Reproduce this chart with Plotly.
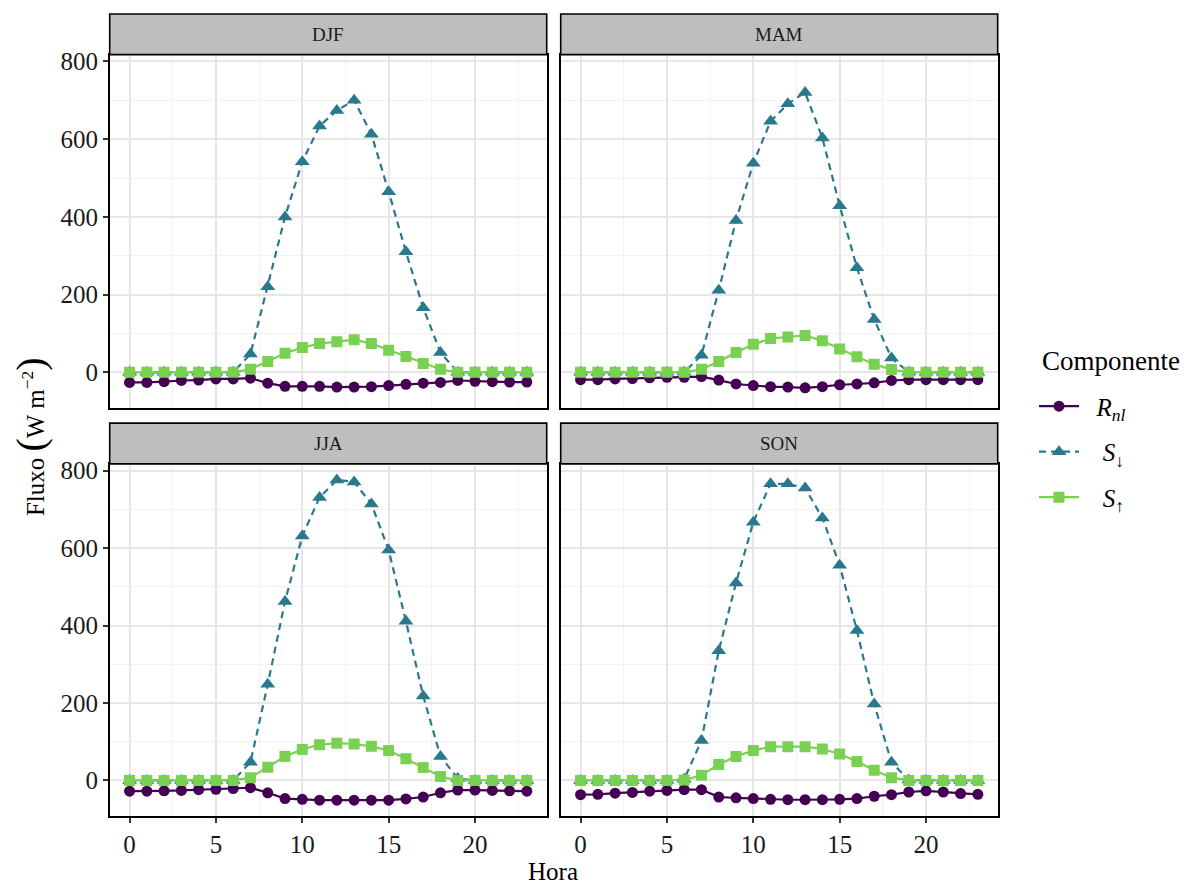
import plotly.graph_objects as go

hours = list(range(24))
seasons = ["DJF", "MAM", "JJA", "SON"]

rnl_djf = [-26, -26, -24, -21, -20, -17, -17, -15, -28, -36, -36, -36, -38, -38, -37, -34, -31, -28, -26, -21, -23, -24, -25, -25]
sdown_djf = [0, 0, 0, 0, 0, 0, 0, 47, 220, 400, 542, 634, 674, 700, 613, 465, 310, 166, 51, 0, 0, 0, 0, 0]
sup_djf = [0, 0, 0, 0, 0, 0, 0, 8, 28, 49, 64, 74, 79, 84, 74, 57, 41, 23, 8, 0, 0, 0, 0, 0]

rnl_mam = [-19, -19, -17, -16, -14, -13, -13, -11, -20, -30, -34, -37, -38, -40, -37, -32, -30, -27, -21, -19, -19, -19, -19, -19]
sdown_mam = [0, 0, 0, 0, 0, 0, 0, 44, 211, 391, 538, 646, 691, 720, 603, 429, 269, 136, 37, 0, 0, 0, 0, 0]
sup_mam = [0, 0, 0, 0, 0, 0, 0, 8, 28, 51, 72, 87, 91, 95, 81, 60, 40, 21, 7, 0, 0, 0, 0, 0]

rnl_jja = [-28, -28, -27, -26, -24, -23, -21, -19, -32, -47, -49, -51, -51, -51, -51, -51, -48, -43, -32, -25, -25, -26, -27, -28]
sdown_jja = [0, 0, 0, 0, 0, 0, 0, 47, 248, 462, 631, 731, 776, 771, 714, 595, 411, 218, 62, 5, 0, 0, 0, 0]
sup_jja = [0, 0, 0, 0, 0, 0, 0, 7, 34, 62, 80, 92, 96, 94, 88, 77, 56, 33, 10, 0, 0, 0, 0, 0]

rnl_son = [-37, -36, -33, -31, -28, -26, -24, -24, -43, -45, -47, -49, -50, -50, -50, -49, -47, -41, -37, -30, -27, -30, -34, -36]
sdown_son = [0, 0, 0, 0, 0, 0, 3, 103, 335, 510, 667, 766, 766, 755, 678, 556, 387, 197, 47, 1, 0, 0, 0, 0]
sup_son = [0, 0, 0, 0, 0, 0, 1, 13, 41, 62, 77, 87, 87, 87, 81, 68, 49, 26, 7, 0, 0, 0, 0, 0]

data = {
    "DJF": (rnl_djf, sdown_djf, sup_djf),
    "MAM": (rnl_mam, sdown_mam, sup_mam),
    "JJA": (rnl_jja, sdown_jja, sup_jja),
    "SON": (rnl_son, sdown_son, sup_son),
}

comp_names = ["&nbsp;&nbsp;<i>R<sub>nl</sub></i>",
              "&nbsp;&nbsp;&nbsp;<i>S</i><sub>↓</sub>",
              "&nbsp;&nbsp;&nbsp;<i>S</i><sub>↑</sub>"]
comp_colors = ["#440154", "#2A788E", "#7AD151"]
comp_symbols = ["circle", "triangle-up", "square"]
comp_sizes = [11, 13, 11]
comp_dash = ["solid", "7px,5px", "solid"]

x_ticks = [0, 5, 10, 15, 20]
y_ticks = [0, 200, 400, 600, 800]

W, H = 1189, 888
FONT = "Liberation Serif"

# pixel geometry of panels
cols = [(109.7, 546.7), (560.7, 997.7)]
rows = [(49, 405), (461, 815.7)]
strips = [(8, 49), (420, 461)]

fig = go.Figure()
layout = dict(
    width=W, height=H, margin=dict(l=0, r=0, t=0, b=0),
    paper_bgcolor="white", plot_bgcolor="white",
    font=dict(family=FONT, color="black", size=24),
    showlegend=True,
)
shapes = []
annotations = []

for i, s in enumerate(seasons):
    r, c = divmod(i, 2)
    n = i + 1
    xa = "x" if n == 1 else f"x{n}"
    ya = "y" if n == 1 else f"y{n}"
    xk = "xaxis" if n == 1 else f"xaxis{n}"
    yk = "yaxis" if n == 1 else f"yaxis{n}"
    x0, x1 = cols[c]
    y0, y1 = rows[r]
    common = dict(
        showgrid=True, gridcolor="#E6E6E6", gridwidth=1.9,
        showline=True, linecolor="black", linewidth=1.6, mirror=True,
        zeroline=False, ticklen=5, tickwidth=1.6, tickcolor="#333333",
        tickfont=dict(family=FONT, size=25, color="#1A1A1A"),
    )
    layout[xk] = dict(
        common, domain=[x0 / W, x1 / W], range=[-1.15, 24.15], anchor=ya,
        tickvals=x_ticks, ticktext=[str(v) for v in x_ticks],
        minor=dict(tickvals=[2.5, 7.5, 12.5, 17.5, 22.5], showgrid=True, gridcolor="#F2F2F2", gridwidth=1, ticks=""),
        ticks="outside" if r == 1 else "", showticklabels=(r == 1),
    )
    layout[yk] = dict(
        common, domain=[1 - y1 / H, 1 - y0 / H], range=[-92.5, 817.5], anchor=xa,
        tickvals=y_ticks, ticktext=[str(v) for v in y_ticks],
        minor=dict(tickvals=[100, 300, 500, 700], showgrid=True, gridcolor="#F2F2F2", gridwidth=1, ticks=""),
        ticks="outside" if c == 0 else "", showticklabels=(c == 0),
    )
    sy0, sy1 = strips[r]
    shapes.append(dict(type="rect", xref="paper", yref="paper",
                       x0=x0 / W, x1=x1 / W, y0=1 - sy1 / H, y1=1 - sy0 / H,
                       fillcolor="#BEBEBE", line=dict(color="black", width=1.6), layer="above"))
    annotations.append(dict(text=s, xref="paper", yref="paper",
                            x=(x0 + x1) / 2 / W, y=1 - (sy0 + sy1) / 2 / H,
                            showarrow=False, xanchor="center", yanchor="middle",
                            font=dict(family=FONT, size=19, color="#1A1A1A")))

    series = data[s]
    for k in range(3):
        fig.add_trace(go.Scatter(
            x=hours, y=series[k], xaxis=xa, yaxis=ya,
            mode="lines+markers", name=comp_names[k],
            legendgroup=str(k), showlegend=(i == 0),
            line=dict(color=comp_colors[k], width=2.2, dash=comp_dash[k]),
            marker=dict(color=comp_colors[k], symbol=comp_symbols[k], size=comp_sizes[k], line=dict(width=0)),
        ))

annotations.append(dict(text="Hora", xref="paper", yref="paper",
                        x=553 / W, y=1 - 871 / H, showarrow=False,
                        xanchor="center", yanchor="middle",
                        font=dict(family=FONT, size=25, color="black")))
annotations.append(dict(text='Fluxo <span style="font-size:40px">(</span>W m<sup>−2</sup><span style="font-size:40px">)</span>',
                        xref="paper", yref="paper",
                        x=30 / W, y=1 - 434 / H, showarrow=False, textangle=-90,
                        xanchor="center", yanchor="middle",
                        font=dict(family=FONT, size=25, color="black")))
annotations.append(dict(text="Componente", xref="paper", yref="paper",
                        x=1040 / W, y=1 - 357 / H, showarrow=False,
                        xanchor="left", yanchor="middle",
                        font=dict(family=FONT, size=27, color="black")))

layout["shapes"] = shapes
layout["annotations"] = annotations
layout["legend"] = dict(
    x=1034 / W, y=1 - 380 / H, xanchor="left", yanchor="top",
    font=dict(family=FONT, size=25, color="black"),
    traceorder="grouped", tracegroupgap=10, bgcolor="rgba(0,0,0,0)",
    itemwidth=40,
)
fig.update_layout(**layout)
fig.write_html("out.html", config={"displayModeBar": False},
               post_script="document.body.style.margin='0';document.body.style.overflow='hidden';")
